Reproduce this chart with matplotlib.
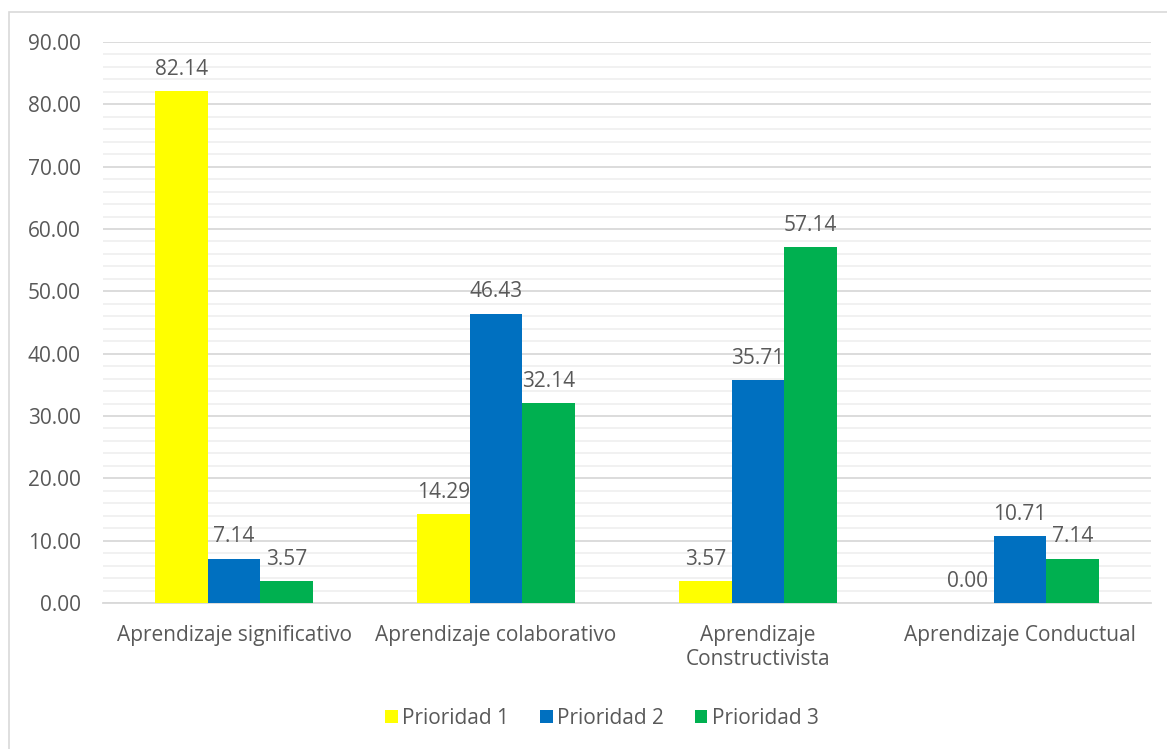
import numpy as np
import matplotlib.pyplot as plt
from matplotlib.patches import Rectangle
from matplotlib.ticker import MultipleLocator

categories = ["Aprendizaje significativo", "Aprendizaje colaborativo",
              "Aprendizaje\nConstructivista", "Aprendizaje Conductual"]
series_names = ["Prioridad 1", "Prioridad 2", "Prioridad 3"]
prioridad_1 = [82.14, 14.29, 3.57, 0.00]
prioridad_2 = [7.14, 46.43, 35.71, 10.71]
prioridad_3 = [3.57, 32.14, 57.14, 7.14]
colors = ["#FFFF00", "#0070C0", "#00B050"]

plt.rcParams["font.family"] = ["Open Sans", "DejaVu Sans"]
text_color = "#595959"
fs = 15

fig = plt.figure(figsize=(11.67, 7.49), dpi=100)
ax = fig.add_axes([0.0883, 0.1949, 0.8980, 0.7490])

# light frame around the chart area
fig.patches.append(Rectangle((9 / 1167, -0.01), 1.02, 1 - 12 / 749 + 0.01,
                             transform=fig.transFigure, fill=False,
                             edgecolor="#d9d9d9", linewidth=1.2))

x = np.arange(len(categories))
width = 0.2
for i, (vals, name, c) in enumerate(zip([prioridad_1, prioridad_2, prioridad_3],
                                        series_names, colors)):
    bars = ax.bar(x + (i - 1) * width, vals, width, color=c, label=name, zorder=3)
    for b, v in zip(bars, vals):
        ax.annotate(f"{v:.2f}", (b.get_x() + b.get_width() / 2, v),
                    xytext=(0, 8), textcoords="offset points",
                    ha="center", va="bottom", fontsize=fs, color=text_color)

ax.set_xlim(-0.5, len(categories) - 0.5)
ax.set_ylim(0, 90)
ax.yaxis.set_major_locator(MultipleLocator(10))
ax.yaxis.set_minor_locator(MultipleLocator(2))
ax.yaxis.set_major_formatter(lambda v, p: f"{v:.2f}")
ax.grid(axis="y", which="major", color="#d9d9d9", linewidth=1.3, zorder=0)
ax.grid(axis="y", which="minor", color="#f0f0f0", linewidth=1.3, zorder=0)
ax.set_axisbelow(True)

ax.set_xticks(x)
ax.set_xticklabels(categories)
ax.tick_params(axis="both", which="both", length=0, labelsize=fs,
               labelcolor=text_color)
ax.tick_params(axis="x", pad=16)
ax.tick_params(axis="y", pad=16)
for s in ["top", "right", "left"]:
    ax.spines[s].set_visible(False)
ax.spines["bottom"].set_color("#d9d9d9")
ax.spines["bottom"].set_linewidth(1.3)

leg = ax.legend(loc="center", bbox_to_anchor=(0.476, -0.205), ncol=3,
                frameon=False, fontsize=fs, handlelength=0.6, handleheight=0.6,
                handletextpad=0.2, columnspacing=1.5)
for t in leg.get_texts():
    t.set_color(text_color)

fig.savefig("out.png", dpi=100)
